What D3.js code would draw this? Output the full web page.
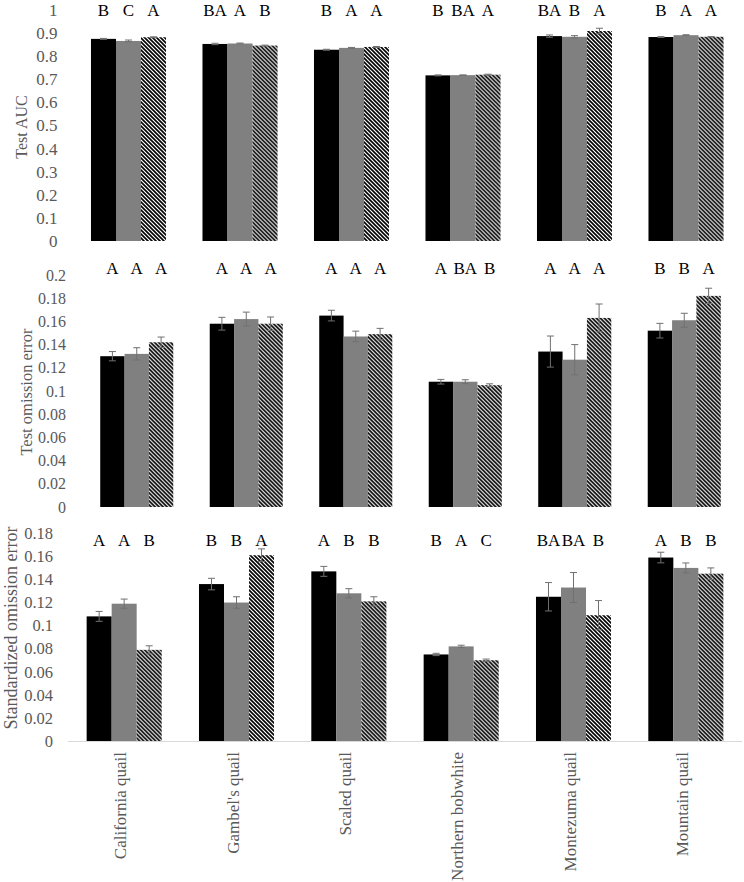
<!DOCTYPE html>
<html><head><meta charset="utf-8">
<script src="https://cdn.jsdelivr.net/npm/d3@7"></script>
<style>body{margin:0;background:#fff}svg{display:block}</style>
</head><body>
<svg id="chart" width="744" height="882"></svg>
<script>
const categories = ["California quail","Gambel's quail","Scaled quail","Northern bobwhite","Montezuma quail","Mountain quail"];
const seriesKeys = ["s1","s2","s3"];

// Panel 1: Test AUC
const aucTicks = [0,0.1,0.2,0.3,0.4,0.5,0.6,0.7,0.8,0.9,1];
const aucS1 = [0.875,0.853,0.828,0.717,0.887,0.883];
const aucS2 = [0.866,0.855,0.836,0.718,0.884,0.891];
const aucS3 = [0.882,0.846,0.840,0.720,0.909,0.884];
const aucErr1 = [0.002,0.003,0.002,0.002,0.005,0.002];
const aucErr2 = [0.004,0.002,0.002,0.001,0.005,0.002];
const aucErr3 = [0.002,0.002,0.002,0.002,0.012,0.001];
const aucLetters = [["B","C","A"],["BA","A","B"],["B","A","A"],["B","BA","A"],["BA","B","A"],["B","A","A"]];

// Panel 2: Test omission error
const omTicks = [0,0.02,0.04,0.06,0.08,0.1,0.12,0.14,0.16,0.18,0.2];
const omS1 = [0.130,0.158,0.165,0.108,0.134,0.152];
const omS2 = [0.132,0.162,0.147,0.108,0.127,0.161];
const omS3 = [0.142,0.158,0.149,0.105,0.163,0.182];
const omErr1 = [0.004,0.0055,0.0046,0.002,0.0134,0.0063];
const omErr2 = [0.0053,0.006,0.0046,0.0017,0.013,0.006];
const omErr3 = [0.0045,0.0058,0.005,0.0012,0.012,0.0066];
const omLetters = [["A","A","A"],["A","A","A"],["A","A","A"],["A","BA","B"],["A","A","A"],["B","B","A"]];

// Panel 3: Standardized omission error
const stTicks = [0,0.02,0.04,0.06,0.08,0.1,0.12,0.14,0.16,0.18];
const stS1 = [0.108,0.136,0.147,0.075,0.125,0.159];
const stS2 = [0.119,0.120,0.128,0.082,0.133,0.150];
const stS3 = [0.079,0.161,0.121,0.070,0.109,0.145];
const stErr1 = [0.0043,0.005,0.0043,0.001,0.0123,0.0046];
const stErr2 = [0.004,0.005,0.004,0.001,0.013,0.0043];
const stErr3 = [0.0035,0.0055,0.004,0.001,0.0127,0.005];
const stLetters = [["A","A","B"],["B","B","A"],["A","B","B"],["B","A","C"],["BA","BA","B"],["A","B","B"]];

const FONT = '"Liberation Serif", "Times New Roman", serif';
const svg = d3.select("#chart");
const defs = svg.append("defs");
const pat = defs.append("pattern").attr("id","hatch").attr("patternUnits","userSpaceOnUse")
  .attr("width",4).attr("height",4);
pat.append("rect").attr("width",4).attr("height",4).attr("fill","#fff");
pat.append("path").attr("d","M-1,-1L5,5M-1,3L1,5M3,-1L5,1").attr("stroke","#000").attr("stroke-width",1.6);

const fills = ["#000000","#808080","url(#hatch)"];
const textCol = "#595959";

function panel(cfg){
  const g = svg.append("g");
  const x = d3.scaleBand().domain(categories).range(cfg.xr).paddingInner(cfg.pad).paddingOuter(cfg.pad/2);
  const xi = d3.scaleBand().domain(seriesKeys).range([0, x.bandwidth()]);
  const y = d3.scaleLinear().domain([0, cfg.ymax]).range([cfg.y0, cfg.ytop]);
  const ax = d3.axisLeft(y).tickValues(cfg.ticks).tickSize(0).tickPadding(0)
    .tickFormat(d => String(+d.toFixed(2)));
  const ag = g.append("g").attr("transform",`translate(${cfg.labelX},0)`).call(ax);
  ag.select(".domain").remove();
  ag.selectAll("text").style("font-family",FONT).style("font-size",cfg.tickFs+"px").attr("fill",textCol);
  g.append("text").attr("transform",`translate(${cfg.titleX},${cfg.titleY}) rotate(-90)`)
    .attr("text-anchor","middle").attr("dominant-baseline","middle")
    .style("font-family",FONT).style("font-size",cfg.titleFs+"px").attr("fill",textCol).text(cfg.title);
  if (cfg.axisLine){
    g.append("line").attr("x1",cfg.xr[0]).attr("x2",cfg.xr[1]).attr("y1",cfg.y0+0.5).attr("y2",cfg.y0+0.5)
      .attr("stroke","#d9d9d9").attr("stroke-width",1);
  }
  const rows = categories.map((c,i)=>({c, i, vals: cfg.series.map(s=>s[i]), errs: cfg.errs.map(e=>e[i])}));
  const grp = g.selectAll("g.grp").data(rows).join("g").attr("class","grp").attr("transform",d=>`translate(${x(d.c)},0)`);
  grp.selectAll("rect").data(d=>d.vals.map((v,k)=>({v,k}))).join("rect")
    .attr("x",d=>xi(seriesKeys[d.k])).attr("width",xi.bandwidth())
    .attr("y",d=>y(d.v)).attr("height",d=>y(0)-y(d.v)).attr("fill",d=>fills[d.k]);
  grp.each(function(d){
    const gg = d3.select(this);
    d.vals.forEach((v,k)=>{
      const cx = xi(seriesKeys[k]) + xi.bandwidth()/2;
      const e = d.errs[k];
      const eg = gg.append("g").attr("stroke","#707070").attr("stroke-width",1);
      eg.append("line").attr("x1",cx).attr("x2",cx).attr("y1",y(v+e)).attr("y2",y(v-e));
      eg.append("line").attr("x1",cx-3.5).attr("x2",cx+3.5).attr("y1",y(v+e)).attr("y2",y(v+e));
      eg.append("line").attr("x1",cx-3.5).attr("x2",cx+3.5).attr("y1",y(v-e)).attr("y2",y(v-e));
      gg.append("text").attr("x",cx).attr("y",cfg.letterY).attr("text-anchor","middle")
        .style("font-family",FONT).style("font-size",cfg.letterFs+"px").attr("fill","#000").text(cfg.letters[d.i][k]);
    });
  });
  return x;
}

panel({xr:[72.75,741.75], pad:0.327, y0:241, ytop:10, ymax:1, ticks:aucTicks, labelX:57.5, tickFs:17,
  title:"Test AUC", titleX:23, titleY:127, titleFs:16, series:[aucS1,aucS2,aucS3], errs:[aucErr1,aucErr2,aucErr3],
  letters:aucLetters, letterY:16, letterFs:17});
panel({xr:[82,739], pad:0.333, y0:507, ytop:275, ymax:0.2, ticks:omTicks, labelX:66, tickFs:16,
  title:"Test omission error", titleX:28, titleY:392, titleFs:16.5, series:[omS1,omS2,omS3], errs:[omErr1,omErr2,omErr3],
  letters:omLetters, letterY:274, letterFs:17});
const xb = panel({xr:[68,742], pad:0.332, y0:741, ytop:533.3, ymax:0.18, ticks:stTicks, labelX:53, tickFs:16.5,
  title:"Standardized omission error", titleX:13, titleY:628, titleFs:18, series:[stS1,stS2,stS3], errs:[stErr1,stErr2,stErr3],
  letters:stLetters, letterY:546, letterFs:17, axisLine:true});

svg.append("g").selectAll("text").data(categories).join("text")
  .attr("transform",d=>`translate(${xb(d)+xb.bandwidth()/2+2},752) rotate(-90)`)
  .attr("text-anchor","end").style("font-family",FONT).style("font-size","17px").attr("fill",textCol).text(d=>d);
</script>
</body></html>
